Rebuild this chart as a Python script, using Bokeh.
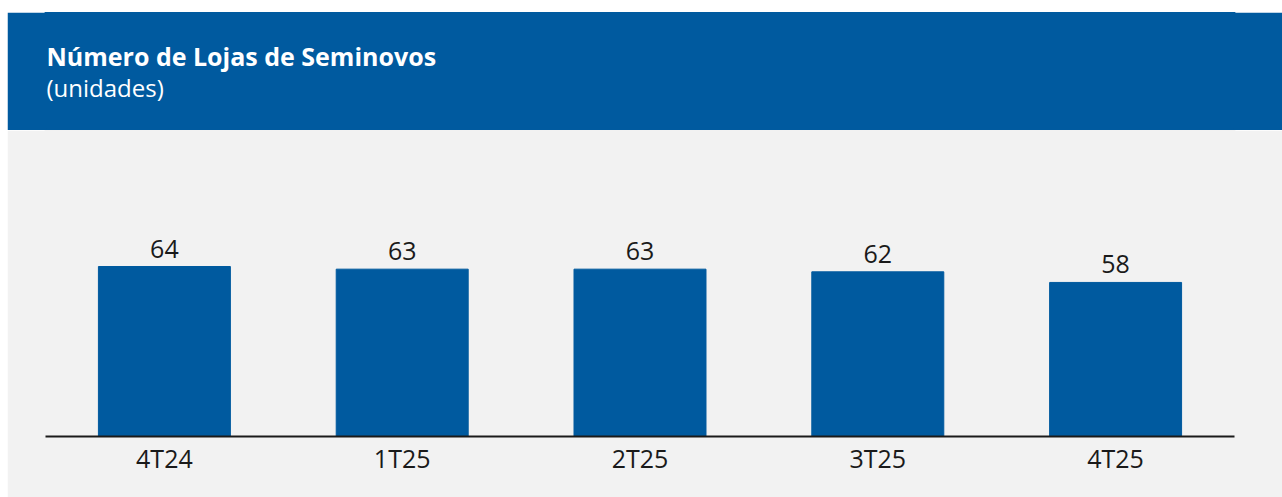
from bokeh.plotting import figure
from bokeh.layouts import column
from bokeh.models import Label, LabelSet, ColumnDataSource
from bokeh.core.properties import value
from bokeh.embed import file_html
from bokeh.resources import INLINE

categories = ["4T24", "1T25", "2T25", "3T25", "4T25"]
lojas = [64, 63, 63, 62, 58]
title_text = "Número de Lojas de Seminovos"
subtitle_text = "(unidades)"

BLUE = "#005a9f"
GRAY = "#f2f2f2"
FONT = "Open Sans"

W = 1275
FW = 1189

# Header
h = figure(width=W, height=118, x_range=(0, FW), y_range=(0, 118),
           output_backend="svg", toolbar_location=None,
           min_border_top=0, min_border_left=38, min_border_right=48, min_border_bottom=0)
h.background_fill_color = BLUE
h.border_fill_color = BLUE
h.outline_line_color = BLUE
h.outline_line_width = 2
h.axis.visible = False
h.grid.visible = False
h.add_layout(Label(x=1, y=75, text=title_text, text_font=FONT, text_font_style="bold",
                   text_font_size="25px", text_color="white", text_baseline="alphabetic"))
h.add_layout(Label(x=1, y=43, text=subtitle_text, text_font=FONT,
                   text_font_size="24px", text_color="white", text_baseline="alphabetic"))

# Chart
source = ColumnDataSource(dict(cat=categories, val=lojas, lab=[str(v) for v in lojas]))
p = figure(width=W, height=367, x_range=categories, y_range=(0, 115.2),
           output_backend="svg", toolbar_location=None,
           min_border_top=0, min_border_left=38, min_border_right=48, min_border_bottom=61)
p.background_fill_color = GRAY
p.border_fill_color = GRAY
p.outline_line_color = GRAY
p.outline_line_width = 2
p.grid.visible = False
p.yaxis.visible = False
p.vbar(x="cat", top="val", width=0.555, bottom=0, color=BLUE, source=source)
p.add_layout(LabelSet(x="cat", y="val", text="lab", source=source, text_align="center",
                      text_baseline="alphabetic", y_offset=9, text_font=value(FONT),
                      text_font_size=value("25px"), text_color="#1a1a1a"))
p.x_range.range_padding = 0
p.xaxis.axis_line_color = "#1a1a1a"
p.xaxis.axis_line_width = 2
p.xaxis.major_tick_line_color = None
p.xaxis.minor_tick_line_color = None
p.xaxis.major_label_text_font = FONT
p.xaxis.major_label_text_font_size = "25px"
p.xaxis.major_label_text_color = "#1a1a1a"
p.xaxis.major_label_standoff = -2

layout = column(h, p, spacing=0, margin=(12, 0, 0, 7))
open("out.html", "w").write(file_html(layout, INLINE))
